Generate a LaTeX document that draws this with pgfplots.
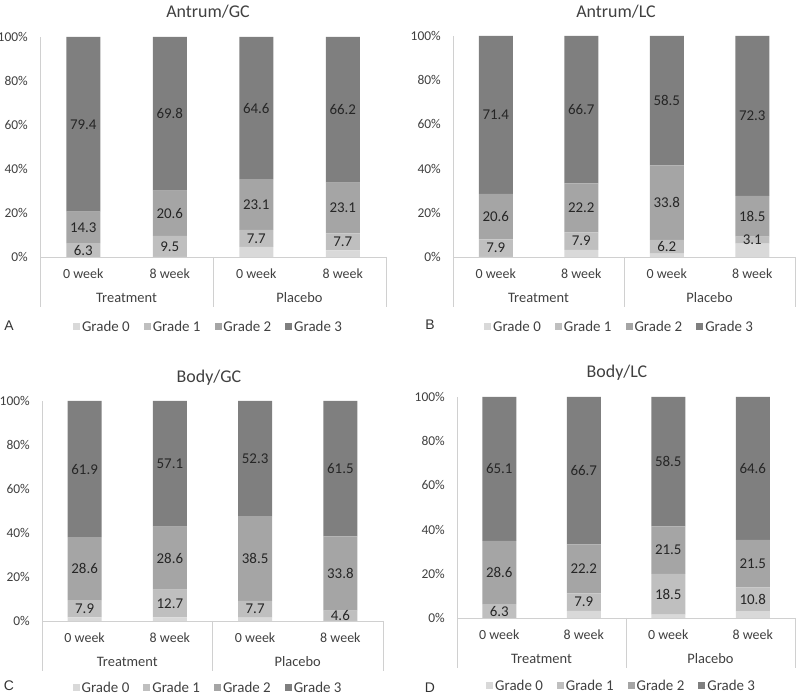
\documentclass[border=0pt]{standalone}
\usepackage{fontspec}
\setmainfont{Carlito}
\newfontfamily\arialfont{Liberation Sans}
\usepackage{pgfplots}
\pgfplotsset{compat=1.18}
\definecolor{g0}{HTML}{D9D9D9}
\definecolor{g1}{HTML}{BFBFBF}
\definecolor{g2}{HTML}{A5A5A5}
\definecolor{g3}{HTML}{7F7F7F}
\definecolor{axisgray}{HTML}{D0D0D0}
\definecolor{txt}{HTML}{404040}

\tikzset{lab/.style={font=\fontsize{15}{16}\selectfont, text=black!85, inner sep=0pt}}
\pgfplotsset{
 panel/.style={
  scale only axis, ybar stacked, bar width=34bp,
  ymin=0, ymax=100, xmin=-0.5, xmax=3.5,
  xtick={0,1,2,3}, xticklabels={0 week,8 week,0 week,8 week},
  ytick={0,20,...,100}, yticklabel={\pgfmathprintnumber{\tick}\%},
  axis x line=bottom, axis y line=left,
  axis line style={-, draw=axisgray, line width=0.8bp},
  major tick length=0pt,
  /pgf/number format/assume math mode=true,
  yticklabel style={font=\fontsize{13.5}{14}\selectfont, text=txt, inner sep=0pt, anchor=east, xshift=-12bp},
  xticklabel style={font=\fontsize{14}{15}\selectfont, text=txt, inner sep=0pt, anchor=center, yshift=-17bp},
  clip=false,
  legend columns=4,
  legend style={at={(0.487,0)}, anchor=center, yshift=-70bp, draw=none, fill=none,
    font=\fontsize{15}{16}\selectfont, text=txt,
    /tikz/every even column/.append style={column sep=12bp}},
  legend image code/.code={\fill[##1] (0bp,-3.5bp) rectangle (7bp,3.5bp);},
 },
}
\newcommand\extras{%
  \draw[axisgray, line width=0.8bp] (axis cs:-0.5,0) -- ++(0bp,-50bp);
  \draw[axisgray, line width=0.8bp] (axis cs:1.5,0) -- ++(0bp,-50bp);
  \draw[axisgray, line width=0.8bp] (axis cs:3.5,0) -- ++(0bp,-50bp);
  \node[font=\fontsize{14.5}{15}\selectfont, text=txt] at ([yshift=-41bp]axis cs:0.5,0) {Treatment};
  \node[font=\fontsize{14.5}{15}\selectfont, text=txt] at ([yshift=-41bp]axis cs:2.5,0) {Placebo};
}
\newcommand\C[3]{\coordinate (#1) at (axis cs:#2,#3);}
\newcommand\T[2]{\node[lab] at (#1) {#2};}

\begin{document}
\begin{tikzpicture}[x=1bp,y=1bp]
\path[use as bounding box] (0,0) rectangle (800,697);

% ---------- A ----------
\begin{axis}[panel, at={(40bp,440bp)}, anchor=south west, width=346bp, height=220bp]
\addplot[fill=g0, draw=none] coordinates {(0,0) (1,0.1) (2,4.6) (3,3.0)};
\addplot[fill=g1, draw=none] coordinates {(0,6.3) (1,9.5) (2,7.7) (3,7.7)};
\addplot[fill=g2, draw=none] coordinates {(0,14.3) (1,20.6) (2,23.1) (3,23.1)};
\addplot[fill=g3, draw=none] coordinates {(0,79.4) (1,69.8) (2,64.6) (3,66.2)};
\legend{Grade 0,Grade 1,Grade 2,Grade 3}
\extras
\C{a01}{0}{3.15}\C{a02}{0}{13.45}\C{a03}{0}{60.3}
\C{a11}{1}{4.85}\C{a12}{1}{19.9}\C{a13}{1}{65.1}
\C{a21}{2}{8.45}\C{a22}{2}{23.85}\C{a23}{2}{67.7}
\C{a31}{3}{6.85}\C{a32}{3}{22.25}\C{a33}{3}{66.9}
\end{axis}
\T{a01}{6.3}\T{a02}{14.3}\T{a03}{79.4}
\T{a11}{9.5}\T{a12}{20.6}\T{a13}{69.8}
\T{a21}{7.7}\T{a22}{23.1}\T{a23}{64.6}
\T{a31}{7.7}\T{a32}{23.1}\T{a33}{66.2}

% ---------- B ----------
\begin{axis}[panel, at={(453bp,440bp)}, anchor=south west, width=342bp, height=221bp]
\addplot[fill=g0, draw=none] coordinates {(0,0.1) (1,3.2) (2,1.5) (3,6.1)};
\addplot[fill=g1, draw=none] coordinates {(0,7.9) (1,7.9) (2,6.2) (3,3.1)};
\addplot[fill=g2, draw=none] coordinates {(0,20.6) (1,22.2) (2,33.8) (3,18.5)};
\addplot[fill=g3, draw=none] coordinates {(0,71.4) (1,66.7) (2,58.5) (3,72.3)};
\legend{Grade 0,Grade 1,Grade 2,Grade 3}
\extras
\C{b01}{0}{4.05}\C{b02}{0}{18.3}\C{b03}{0}{64.3}
\C{b11}{1}{7.15}\C{b12}{1}{22.2}\C{b13}{1}{66.65}
\C{b21}{2}{4.6}\C{b22}{2}{24.6}\C{b23}{2}{70.75}
\C{b31}{3}{7.65}\C{b32}{3}{18.45}\C{b33}{3}{63.85}
\end{axis}
\T{b01}{7.9}\T{b02}{20.6}\T{b03}{71.4}
\T{b11}{7.9}\T{b12}{22.2}\T{b13}{66.7}
\T{b21}{6.2}\T{b22}{33.8}\T{b23}{58.5}
\T{b31}{3.1}\T{b32}{18.5}\T{b33}{72.3}

% ---------- C ----------
\begin{axis}[panel, at={(42bp,76bp)}, anchor=south west, width=341bp, height=220bp,
  legend style={yshift=3bp}]
\addplot[fill=g0, draw=none] coordinates {(0,1.6) (1,1.6) (2,1.5) (3,0.1)};
\addplot[fill=g1, draw=none] coordinates {(0,7.9) (1,12.7) (2,7.7) (3,4.6)};
\addplot[fill=g2, draw=none] coordinates {(0,28.6) (1,28.6) (2,38.5) (3,33.8)};
\addplot[fill=g3, draw=none] coordinates {(0,61.9) (1,57.1) (2,52.3) (3,61.5)};
\legend{Grade 0,Grade 1,Grade 2,Grade 3}
\extras
\C{c01}{0}{5.55}\C{c02}{0}{23.8}\C{c03}{0}{69.05}
\C{c11}{1}{7.95}\C{c12}{1}{28.6}\C{c13}{1}{71.45}
\C{c21}{2}{5.35}\C{c22}{2}{28.45}\C{c23}{2}{73.85}
\C{c31}{3}{2.4}\C{c32}{3}{21.6}\C{c33}{3}{69.25}
\end{axis}
\T{c01}{7.9}\T{c02}{28.6}\T{c03}{61.9}
\T{c11}{12.7}\T{c12}{28.6}\T{c13}{57.1}
\T{c21}{7.7}\T{c22}{38.5}\T{c23}{52.3}
\T{c31}{4.6}\T{c32}{33.8}\T{c33}{61.5}

% ---------- D ----------
\begin{axis}[panel, at={(457bp,79bp)}, anchor=south west, width=338bp, height=221bp,
  legend style={yshift=2bp}]
\addplot[fill=g0, draw=none] coordinates {(0,0) (1,3.2) (2,1.5) (3,3.1)};
\addplot[fill=g1, draw=none] coordinates {(0,6.3) (1,7.9) (2,18.5) (3,10.8)};
\addplot[fill=g2, draw=none] coordinates {(0,28.6) (1,22.2) (2,21.5) (3,21.5)};
\addplot[fill=g3, draw=none] coordinates {(0,65.1) (1,66.7) (2,58.5) (3,64.6)};
\legend{Grade 0,Grade 1,Grade 2,Grade 3}
\extras
\C{d01}{0}{3.15}\C{d02}{0}{20.6}\C{d03}{0}{67.45}
\C{d11}{1}{7.15}\C{d12}{1}{22.2}\C{d13}{1}{66.65}
\C{d21}{2}{10.75}\C{d22}{2}{30.75}\C{d23}{2}{70.75}
\C{d31}{3}{8.5}\C{d32}{3}{24.65}\C{d33}{3}{67.7}
\end{axis}
\T{d01}{6.3}\T{d02}{28.6}\T{d03}{65.1}
\T{d11}{7.9}\T{d12}{22.2}\T{d13}{66.7}
\T{d21}{18.5}\T{d22}{21.5}\T{d23}{58.5}
\T{d31}{10.8}\T{d32}{21.5}\T{d33}{64.6}

% titles
\node[font=\fontsize{18}{20}\selectfont, text=txt] at (208,685) {Antrum/GC};
\node[font=\fontsize{18}{20}\selectfont, text=txt] at (616,685) {Antrum/LC};
\node[font=\fontsize{18}{20}\selectfont, text=txt] at (209,319) {Body/GC};
\node[font=\fontsize{18}{20}\selectfont, text=txt] at (617,324) {Body/LC};
% panel letters
\node[font=\arialfont\fontsize{14}{15}\selectfont, text=black!80] at (9,371) {A};
\node[font=\arialfont\fontsize{14}{15}\selectfont, text=black!80] at (430,372) {B};
\node[font=\arialfont\fontsize{14}{15}\selectfont, text=black!80] at (9,11) {C};
\node[font=\arialfont\fontsize{14}{15}\selectfont, text=black!80] at (430,9) {D};
\end{tikzpicture}
\end{document}
